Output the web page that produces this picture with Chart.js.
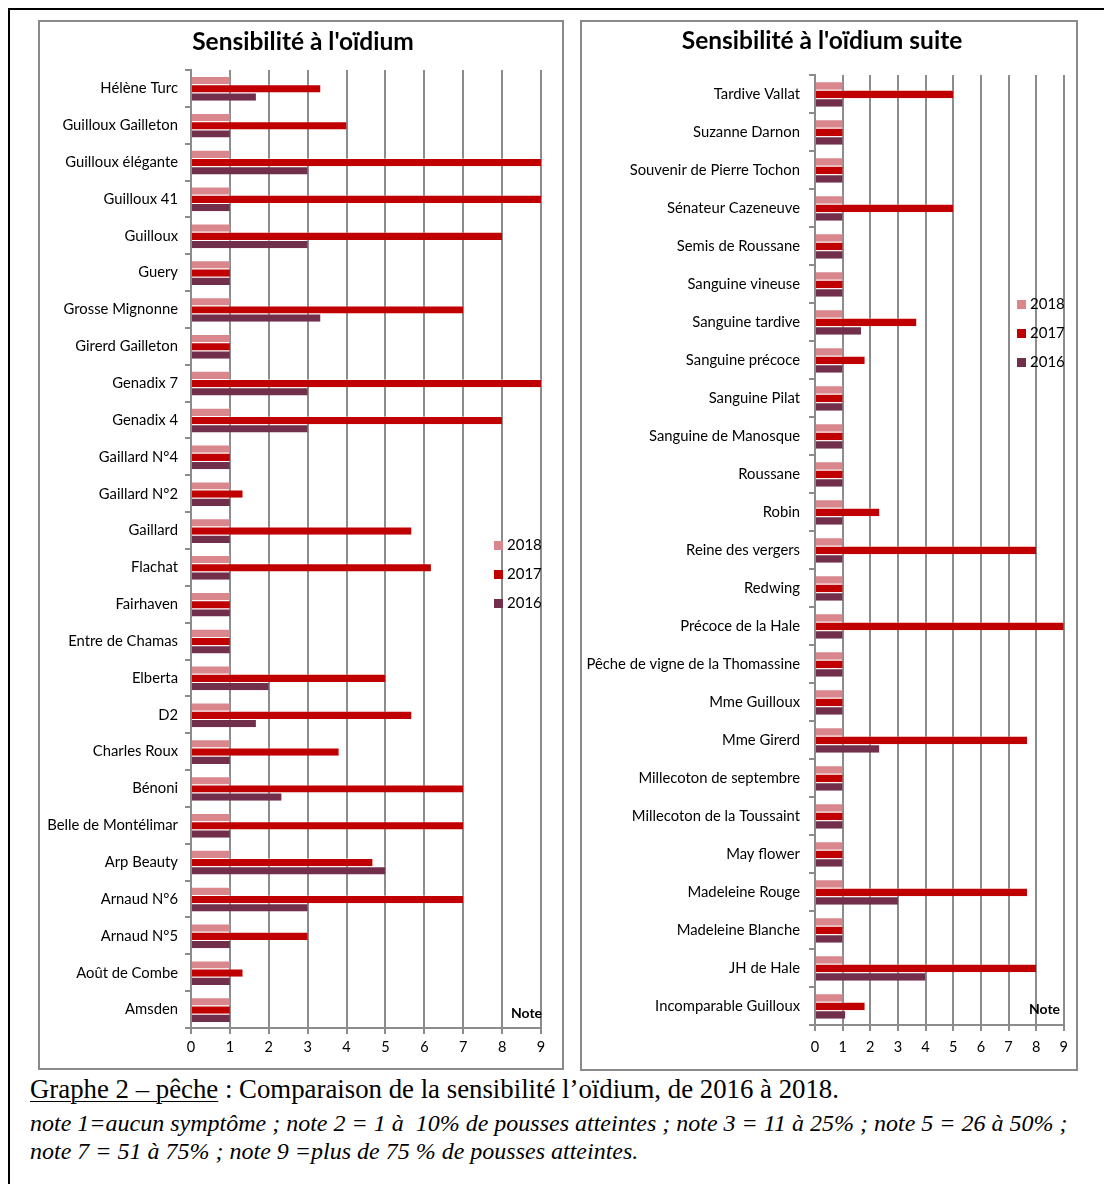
<!DOCTYPE html>
<html lang="fr">
<head>
<meta charset="UTF-8">
<title>Sensibilité à l'oïdium</title>
<script src="https://cdn.jsdelivr.net/npm/chart.js"></script>
<style>
    body { margin: 0; width: 1104px; height: 1184px; background: #fff; position: relative; overflow: hidden; font-family: Lato, sans-serif; }
    .frame { position: absolute; left: 8px; top: 8px; width: 1200px; height: 1200px; border: 2px solid #000; }
    .box { position: absolute; top: 20px; border: 2px solid #8a8a8a; box-sizing: border-box; background: #fff; }
    #boxLeft { left: 38px; width: 526px; height: 1050px; }
    #boxRight { left: 580px; width: 498px; height: 1051px; }
    .box canvas { position: absolute; left: 0; top: 0; }
    .title { position: absolute; width: 400px; text-align: center; font-weight: bold; font-size: 24.5px; line-height: 30px; color: #000; white-space: nowrap; }
    .legend { position: absolute; font-size: 15px; color: #000; }
    .legend div { height: 29px; line-height: 18px; white-space: nowrap; }
    .legend span { display: inline-block; width: 9px; height: 9px; margin-right: 4px; }
    .note { position: absolute; font-weight: bold; font-size: 14px; }
    .caption { position: absolute; left: 30px; font-family: "Liberation Serif", serif; color: #000; white-space: nowrap; }
    .c1 { top: 1074px; font-size: 26.8px; }
    .c1 u { text-decoration-thickness: 1px; text-underline-offset: 3px; }
    .c2 { font-style: italic; font-size: 24px; }
</style>
</head>
<body>
<div class="frame"></div>
<div class="box" id="boxLeft"><canvas id="leftChart" width="522" height="1046"></canvas>
    <div class="title" style="left:63px; top:4px;">Sensibilité à l'oïdium</div>
    <div class="legend" id="legLeft" style="left:454px; top:513px;"></div>
    <div class="note" style="left:471px; top:982px;">Note</div>
</div>
<div class="box" id="boxRight"><canvas id="rightChart" width="494" height="1047"></canvas>
    <div class="title" style="left:40px; top:3px;">Sensibilité à l'oïdium suite</div>
    <div class="legend" id="legRight" style="left:435px; top:272px;"></div>
    <div class="note" style="left:447px; top:978px;">Note</div>
</div>
<div class="caption c1"><u>Graphe 2 – pêche</u> : Comparaison de la sensibilité l’oïdium, de 2016 à 2018.</div>
<div class="caption c2" style="top:1110px;">note 1=aucun symptôme ; note 2 = 1 à &nbsp;10% de pousses atteintes ; note 3 = 11 à 25% ; note 5 = 26 à 50% ;</div>
<div class="caption c2" style="top:1138px;">note 7 = 51 à 75% ; note 9 =plus de 75 % de pousses atteintes.</div>

<script>
    const years = ['2018', '2017', '2016'];
    const colors = ['#D9868C', '#C00000', '#722F4C'];
    const xTicks = [0, 1, 2, 3, 4, 5, 6, 7, 8, 9];

    const leftLabels = ['Hélène Turc', 'Guilloux Gailleton', 'Guilloux élégante', 'Guilloux 41', 'Guilloux', 'Guery',
        'Grosse Mignonne', 'Girerd Gailleton', 'Genadix 7', 'Genadix 4', 'Gaillard N°4', 'Gaillard N°2', 'Gaillard',
        'Flachat', 'Fairhaven', 'Entre de Chamas', 'Elberta', 'D2', 'Charles Roux', 'Bénoni', 'Belle de Montélimar',
        'Arp Beauty', 'Arnaud N°6', 'Arnaud N°5', 'Août de Combe', 'Amsden'];
    const left2018 = [1, 1, 1, 1, 1, 1, 1, 1, 1, 1, 1, 1, 1, 1, 1, 1, 1, 1, 1, 1, 1, 1, 1, 1, 1, 1];
    const left2017 = [3.33, 4, 9, 9, 8, 1, 7, 1, 9, 8, 1, 1.33, 5.67, 6.17, 1, 1, 5, 5.67, 3.8, 7, 7, 4.67, 7, 3, 1.33, 1];
    const left2016 = [1.67, 1, 3, 1, 3, 1, 3.33, 1, 3, 3, 1, 1, 1, 1, 1, 1, 2, 1.67, 1, 2.33, 1, 5, 3, 1, 1, 1];

    const rightLabels = ['Tardive Vallat', 'Suzanne Darnon', 'Souvenir de Pierre Tochon', 'Sénateur Cazeneuve',
        'Semis de Roussane', 'Sanguine vineuse', 'Sanguine tardive', 'Sanguine précoce', 'Sanguine Pilat',
        'Sanguine de Manosque', 'Roussane', 'Robin', 'Reine des vergers', 'Redwing', 'Précoce de la Hale',
        'Pêche de vigne de la Thomassine', 'Mme Guilloux', 'Mme Girerd', 'Millecoton de septembre',
        'Millecoton de la Toussaint', 'May flower', 'Madeleine Rouge', 'Madeleine Blanche', 'JH de Hale',
        'Incomparable Guilloux'];
    const right2018 = [1, 1, 1, 1, 1, 1, 1, 1, 1, 1, 1, 1, 1, 1, 1, 1, 1, 1, 1, 1, 1, 1, 1, 1, 1];
    const right2017 = [5, 1, 1, 5, 1, 1, 3.67, 1.8, 1, 1, 1, 2.33, 8, 1, 9, 1, 1, 7.67, 1, 1, 1, 7.67, 1, 8, 1.8];
    const right2016 = [1, 1, 1, 1, 1, 1, 1.67, 1, 1, 1, 1, 1, 1, 1, 1, 1, 1, 2.33, 1, 1, 1, 3, 1, 4, 1.1];

    const gridGray = '#8c8c8c';

    function makeChart(id, labels, series, cfg) {
        return new Chart(document.getElementById(id).getContext('2d'), {
            type: 'bar',
            data: {
                labels: labels,
                datasets: series.map((d, i) => ({
                    label: years[i], data: d, backgroundColor: colors[i],
                    borderColor: 'rgba(255,255,255,0.35)', borderWidth: { top: 1, bottom: 0, left: 0, right: 0 },
                    barPercentage: 1, categoryPercentage: cfg.catPct
                }))
            },
            options: {
                indexAxis: 'y',
                responsive: false,
                animation: false,
                layout: { padding: { left: 0, right: cfg.padRight, top: cfg.padTop, bottom: 0 } },
                plugins: {
                    legend: { display: false },
                    tooltip: { enabled: false },
                    title: { display: false }
                },
                scales: {
                    x: {
                        min: 0, max: 9,
                        afterBuildTicks: s => { s.ticks = xTicks.map(v => ({ value: v })); },
                        afterFit: s => { s.height = cfg.xHeight; },
                        grid: { color: gridGray, lineWidth: 2, tickLength: 6 },
                        border: { color: gridGray, width: 2 },
                        ticks: { color: '#000', padding: cfg.xPad, font: { family: 'Lato', size: 14.5 } }
                    },
                    y: {
                        afterFit: s => { s.width = cfg.yWidth; },
                        grid: { offset: true, drawOnChartArea: false, color: gridGray, lineWidth: 2, tickLength: 6 },
                        border: { color: gridGray, width: 2 },
                        ticks: { color: '#000', padding: cfg.labelPad, autoSkip: false, font: { family: 'Lato', size: 14.8 } }
                    }
                }
            }
        });
    }

    function makeLegend(id) {
        document.getElementById(id).innerHTML = years.map((y, i) =>
            '<div><span style="background:' + colors[i] + '"></span>' + y + '</div>').join('');
    }

    makeChart('leftChart', leftLabels, [left2018, left2017, left2016],
        { catPct: 0.67, padTop: 48, padRight: 21, yWidth: 151, xHeight: 40, labelPad: 7, xPad: 5 });
    makeChart('rightChart', rightLabels, [right2018, right2017, right2016],
        { catPct: 0.67, padTop: 53, padRight: 11, yWidth: 233, xHeight: 44, labelPad: 9, xPad: 8 });
    makeLegend('legLeft');
    makeLegend('legRight');
</script>
</body>
</html>
